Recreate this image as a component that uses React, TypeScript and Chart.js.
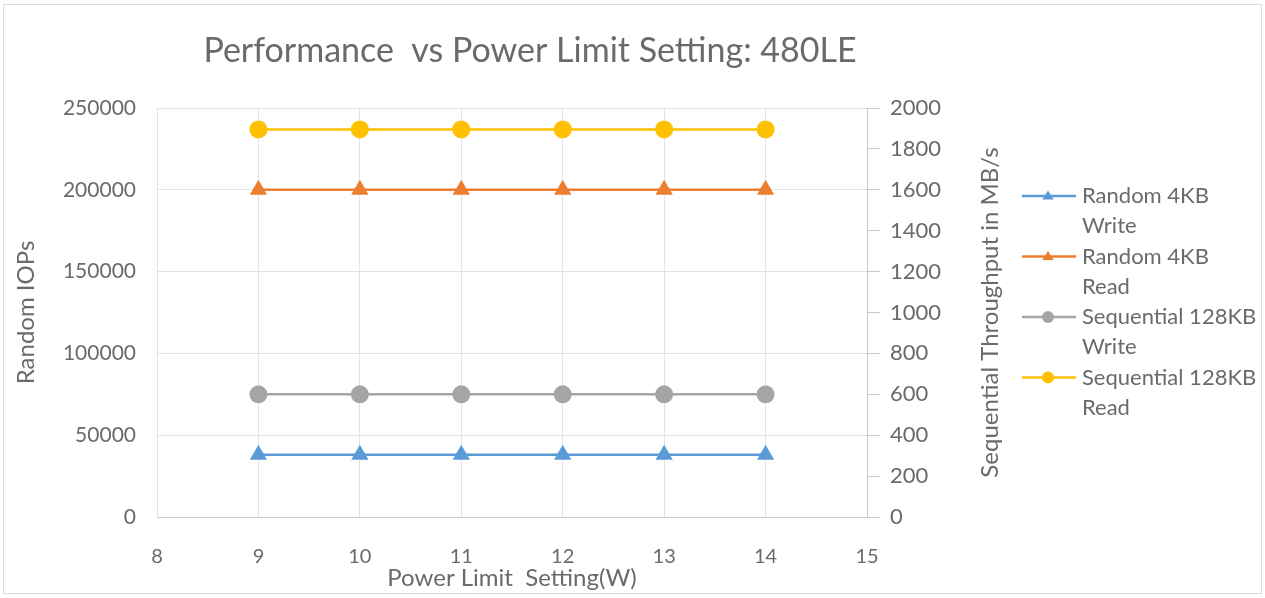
import React, { useEffect, useRef } from "react";
import { Chart, registerables } from "chart.js";

Chart.register(...registerables);

const chartTitle = "Performance  vs Power Limit Setting: 480LE";
const xAxisTitle = "Power Limit  Setting(W)";
const leftAxisTitle = "Random IOPs";
const rightAxisTitle = "Sequential Throughput in MB/s";

const powerLimits = [9, 10, 11, 12, 13, 14];
const random4kWrite = [38000, 38000, 38000, 38000, 38000, 38000];
const random4kRead = [200000, 200000, 200000, 200000, 200000, 200000];
const seq128kWrite = [600, 600, 600, 600, 600, 600];
const seq128kRead = [1895, 1895, 1895, 1895, 1895, 1895];

const seriesNames = ["Random 4KB Write", "Random 4KB Read", "Sequential 128KB Write", "Sequential 128KB Read"];
const legendLines = [["Random 4KB", "Write"], ["Random 4KB", "Read"], ["Sequential 128KB", "Write"], ["Sequential 128KB", "Read"]];
const seriesColors = ["#5B9BD5", "#ED7D31", "#A5A5A5", "#FFC000"];
const seriesMarkers = ["triangle", "triangle", "circle", "circle"];

const FONT = "Lato";
const TEXT = "#6a6a6a";

function drawMarker(ctx: CanvasRenderingContext2D, style: string, x: number, y: number, r: number, color: string) {
  ctx.save();
  ctx.fillStyle = color;
  ctx.beginPath();
  if (style === "circle") {
    ctx.arc(x, y, r, 0, Math.PI * 2);
  } else {
    const h = r * 1.5;
    ctx.moveTo(x, y - h * 0.6);
    ctx.lineTo(x + r * 0.95, y + h * 0.4);
    ctx.lineTo(x - r * 0.95, y + h * 0.4);
    ctx.closePath();
  }
  ctx.fill();
  ctx.restore();
}

const overlayPlugin = {
  id: "overlay",
  afterDraw(chart: any) {
    const ctx: CanvasRenderingContext2D = chart.ctx;
    const area = chart.chartArea;
    ctx.save();
    ctx.strokeStyle = "#dcdcdc";
    ctx.lineWidth = 1;
    ctx.strokeRect(3.5, 4.5, 1258, 589);
    ctx.fillStyle = TEXT;
    ctx.textAlign = "center";
    ctx.textBaseline = "middle";
    ctx.font = `34px ${FONT}`;
    ctx.fillText(chartTitle, 530, 51);
    ctx.font = `24px ${FONT}`;
    ctx.fillText(xAxisTitle, (area.left + area.right) / 2, 578);
    const midY = (area.top + area.bottom) / 2;
    ctx.save();
    ctx.translate(26, midY);
    ctx.rotate(-Math.PI / 2);
    ctx.fillText(leftAxisTitle, 0, 0);
    ctx.restore();
    ctx.save();
    ctx.translate(990, midY);
    ctx.rotate(-Math.PI / 2);
    ctx.fillText(rightAxisTitle, 0, 0);
    ctx.restore();
    ctx.textAlign = "left";
    chart.data.datasets.forEach((ds: any, i: number) => {
      const y0 = 196 + i * 60.5;
      ctx.strokeStyle = ds.borderColor;
      ctx.lineWidth = 2.5;
      ctx.beginPath();
      ctx.moveTo(1022, y0);
      ctx.lineTo(1076, y0);
      ctx.stroke();
      drawMarker(ctx, ds.pointStyle, 1048, y0, 6, ds.borderColor);
      ctx.fillStyle = TEXT;
      ctx.font = `22px ${FONT}`;
      legendLines[i].forEach((line, j) => {
        ctx.fillText(line, 1082, y0 + j * 30);
      });
    });
    ctx.restore();
  },
};

const plain = (v: any) => String(v);

export default function App() {
  const ref = useRef<HTMLCanvasElement>(null);
  useEffect(() => {
    if (!ref.current) return;
    const mk = (label: string, data: number[], i: number, axis: string) => ({
      label,
      data: powerLimits.map((x, k) => ({ x, y: data[k] })),
      borderColor: seriesColors[i],
      backgroundColor: seriesColors[i],
      pointStyle: seriesMarkers[i],
      pointRadius: seriesMarkers[i] === "circle" ? 9 : 10,
      pointBorderWidth: 0,
      borderWidth: 2.5,
      yAxisID: axis,
      fill: false,
    });
    const chart = new Chart(ref.current, {
      type: "line",
      data: {
        datasets: [
          mk(seriesNames[0], random4kWrite, 0, "y"),
          mk(seriesNames[1], random4kRead, 1, "y"),
          mk(seriesNames[2], seq128kWrite, 2, "y1"),
          mk(seriesNames[3], seq128kRead, 3, "y1"),
        ],
      },
      options: {
        animation: false,
        responsive: false,
        devicePixelRatio: 1,
        layout: { padding: { left: 8, right: 308, top: 108, bottom: 0 } },
        plugins: { legend: { display: false }, title: { display: false }, tooltip: { enabled: false } },
        scales: {
          x: {
            type: "linear",
            min: 8,
            max: 15,
            ticks: { stepSize: 1, color: TEXT, font: { family: FONT, size: 20 }, padding: 28, callback: plain },
            grid: { color: "#e3e3e3", drawTicks: false },
            border: { color: "#c8c8c8" },
            afterFit: (s: any) => { s.height = 81; },
          },
          y: {
            position: "left",
            min: 0,
            max: 250000,
            ticks: { stepSize: 50000, color: TEXT, font: { family: FONT, size: 21 }, padding: 21, callback: plain },
            grid: { color: "#e3e3e3", drawTicks: false },
            border: { display: false },
            afterFit: (s: any) => { s.width = 149; },
          },
          y1: {
            position: "right",
            min: 0,
            max: 2000,
            ticks: { stepSize: 200, color: TEXT, font: { family: FONT, size: 22 }, padding: 10, callback: plain },
            grid: { drawOnChartArea: false, color: "#c8c8c8", tickLength: 13 },
            border: { color: "#c8c8c8" },
            afterFit: (s: any) => { s.width = 90; },
          },
        },
      } as any,
      plugins: [overlayPlugin],
    });
    return () => chart.destroy();
  }, []);
  return (
    <div style={{ position: "absolute", left: 0, top: 0, width: 1265, height: 598, background: "#fff" }}>
      <canvas ref={ref} width={1265} height={598} style={{ width: 1265, height: 598, display: "block" }} />
    </div>
  );
}
